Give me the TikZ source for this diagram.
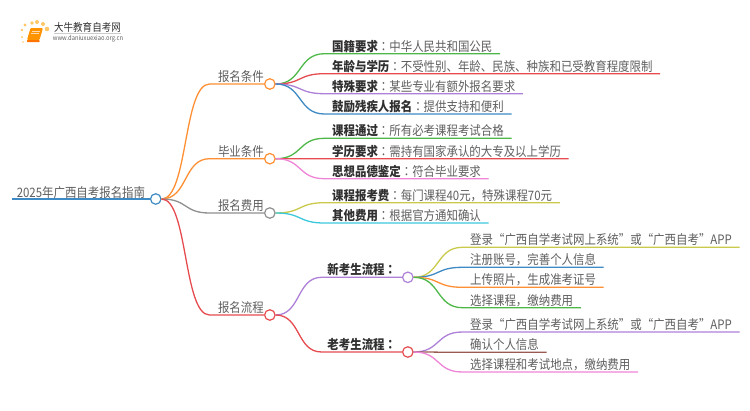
\documentclass[tikz,border=0pt]{standalone}
\usepackage{fontspec}
\usetikzlibrary{positioning,calc}
\setmainfont[FakeStretch=0.88]{Noto Sans CJK SC}
\newfontfamily\colonfont[FakeStretch=0.88]{Noto Sans CJK TC}
\definecolor{txtgray}{HTML}{5F5F5F}
\definecolor{keyblack}{HTML}{303030}
\definecolor{mbluec}{HTML}{3D8AC4}
\definecolor{morangec}{HTML}{FF8F33}
\definecolor{mgreenc}{HTML}{4DB848}
\definecolor{mredc}{HTML}{E64C4F}
\definecolor{mpurplec}{HTML}{AE80D8}
\definecolor{mpinkc}{HTML}{EE85D6}
\definecolor{mgrayc}{HTML}{8F8F8F}
\definecolor{molivec}{HTML}{C9C94B}
\definecolor{mcyanc}{HTML}{3CC8DC}
\definecolor{mbrownc}{HTML}{9A5A52}
\definecolor{logodot}{HTML}{FFC766}
\tikzset{
    txt/.style={font=\fontsize{13}{15}\selectfont, text=txtgray, inner ysep=1pt, text depth=1.5pt, text height=11pt},
    lvl/.style={txt, anchor=south east, inner xsep=0pt, text width=#1, align=right},
    lvltwo/.style={txt, anchor=south east, inner xsep=0pt, text width=#1, align=center},
    leaf/.style={txt, anchor=south west, inner xsep=7.5pt},
    dot/.style={circle, draw=#1, fill=white, line width=1.2pt, minimum size=10.5pt, inner sep=0pt},
    branch/.style={line width=1.3pt, draw=#1, to path={
        .. controls ($(\tikztostart)!0.55!(\tikztotarget |- \tikztostart)$)
        and ($(\tikztotarget)!0.55!(\tikztostart |- \tikztotarget)$) .. (\tikztotarget)}}
}
\newcommand{\keyw}[1]{{\bfseries\color{keyblack}#1}}
\newcommand{\cln}{{\colonfont ：}}
\begin{document}
\begin{tikzpicture}[x=1pt,y=-1pt]
    \useasboundingbox (0,0) rectangle (750,410);

    % Logo
    \foreach \px/\py/\r in {22/37/1, 23/42/0.8, 22/30/1.4, 25/25/1.7, 32/23/1.9, 37/22/2, 43/24/2, 47/29/2.3}
        \fill[logodot] (\px,\py) circle (\r);
    \fill[orange!85!yellow, rounded corners=1pt] (30.5,28) -- (43,28) -- (39.5,40) -- (27,40) -- cycle;
    \fill[orange!90!red, rounded corners=0.5pt] (27,40) -- (39.5,40) -- (39.5,42) -- (27,42) -- cycle;
    \draw[white!70!orange, line width=0.5pt] (32,31) -- (40,31) (31,33.5) -- (39,33.5);
    \node[font=\fontsize{10.8}{12}\selectfont, text=keyblack, inner sep=0pt] (logoname) at (87.5,27) {大牛教育自考网};
    \node[font=\fontsize{6.6}{8}\selectfont, text=txtgray, inner sep=0pt] (logourl) at (88,38.7) {www.daniuxuexiao.org.cn};
    \draw[gray!40, line width=0.4pt] (logoname.west |- 0,33) -- (logoname.east |- 0,33);

    % Root
    \node[txt, text depth=0.3pt, anchor=south west, inner xsep=0pt, text width=137.5pt, align=center] (guide) at (12,199) {2025年广西自考报名指南};
    \node[dot=mbluec, right=0pt of guide.south east] (guidedot) {};

    % Main branches
    \node[lvl=54pt] (signup) at (264,84) {报名条件};
    \node[dot=morangec, right=0pt of signup.south east] (signupdot) {};
    \node[lvl=54pt] (finish) at (264,158.7) {毕业条件};
    \node[dot=morangec, right=0pt of finish.south east] (finishdot) {};
    \node[lvl=54pt] (fees) at (264,213) {报名费用};
    \node[dot=mgrayc, right=0pt of fees.south east] (feesdot) {};
    \node[lvl=54pt] (steps) at (264,315) {报名流程};
    \node[dot=mredc, right=0pt of steps.south east] (stepsdot) {};

    % Second level of the steps
    \node[lvltwo=80pt] (newflow) at (402,277.3) {\keyw{新考生流程\cln}};
    \node[dot=mpurplec, right=0pt of newflow.south east] (newflowdot) {};
    \node[lvltwo=80pt] (oldflow) at (402,352) {\keyw{老考生流程\cln}};
    \node[dot=mredc, right=0pt of oldflow.south east] (oldflowdot) {};

    % Leaves
    \node[leaf] (nation) at (324.5,53.7) {\keyw{国籍要求}\cln 中华人民共和国公民};
    \node[leaf] (age) at (324.5,73.7) {\keyw{年龄与学历}\cln 不受性别、年龄、民族、种族和已受教育程度限制};
    \node[leaf] (special) at (324.5,93.7) {\keyw{特殊要求}\cln 某些专业有额外报名要求};
    \node[leaf] (disabled) at (324.5,114) {\keyw{鼓励残疾人报名}\cln 提供支持和便利};
    \node[leaf] (course) at (324.5,138.3) {\keyw{课程通过}\cln 所有必考课程考试合格};
    \node[leaf] (degree) at (324.5,158.7) {\keyw{学历要求}\cln 需持有国家承认的大专及以上学历};
    \node[leaf] (moral) at (324.5,178.7) {\keyw{思想品德鉴定}\cln 符合毕业要求};
    \node[leaf] (coursefee) at (324.5,202.7) {\keyw{课程报考费}\cln 每门课程40元，特殊课程70元};
    \node[leaf] (otherfee) at (324.5,223) {\keyw{其他费用}\cln 根据官方通知确认};
    \node[leaf] (newlogin) at (462.5,247.3) {登录“广西自学考试网上系统”或“广西自考”APP};
    \node[leaf] (register) at (462.5,267.3) {注册账号，完善个人信息};
    \node[leaf] (photo) at (462.5,287.3) {上传照片，生成准考证号};
    \node[leaf] (choose) at (462.5,307.7) {选择课程，缴纳费用};
    \node[leaf] (oldlogin) at (462.5,332) {登录“广西自学考试网上系统”或“广西自考”APP};
    \node[leaf] (confirm) at (462.5,352.3) {确认个人信息};
    \node[leaf] (choosetwo) at (462.5,372) {选择课程和考试地点，缴纳费用};

    % Connectors
    \draw[line width=1.3pt, mbluec] (guide.south west) -- (guide.south east);
    \draw[branch=morangec] (guidedot.east) to (signup.south west) -- (signup.south east);
    \draw[branch=morangec] (guidedot.east) to (finish.south west) -- (finish.south east);
    \draw[branch=mgrayc] (guidedot.east) to (fees.south west) -- (fees.south east);
    \draw[branch=mredc] (guidedot.east) to (steps.south west) -- (steps.south east);

    \draw[branch=mgreenc] (signupdot.east) to (nation.south west) -- (nation.south east);
    \draw[branch=mredc] (signupdot.east) to (age.south west) -- (age.south east);
    \draw[branch=mpurplec] (signupdot.east) to (special.south west) -- (special.south east);
    \draw[branch=mbluec] (signupdot.east) to (disabled.south west) -- (disabled.south east);

    \draw[branch=mgreenc] (finishdot.east) to (course.south west) -- (course.south east);
    \draw[branch=mredc] (finishdot.east) to (degree.south west) -- (degree.south east);
    \draw[branch=mpinkc] (finishdot.east) to (moral.south west) -- (moral.south east);

    \draw[branch=molivec] (feesdot.east) to (coursefee.south west) -- (coursefee.south east);
    \draw[branch=mcyanc] (feesdot.east) to (otherfee.south west) -- (otherfee.south east);

    \draw[branch=mpurplec] (stepsdot.east) to (newflow.south west) -- (newflow.south east);
    \draw[branch=mredc] (stepsdot.east) to (oldflow.south west) -- (oldflow.south east);

    \draw[branch=molivec] (newflowdot.east) to (newlogin.south west) -- (newlogin.south east);
    \draw[branch=mbluec] (newflowdot.east) to (register.south west) -- (register.south east);
    \draw[branch=morangec] (newflowdot.east) to (photo.south west) -- (photo.south east);
    \draw[branch=mgreenc] (newflowdot.east) to (choose.south west) -- (choose.south east);

    \draw[branch=mpurplec] (oldflowdot.east) to (oldlogin.south west) -- (oldlogin.south east);
    \draw[branch=mbrownc] (oldflowdot.east) to (confirm.south west) -- (confirm.south east);
    \draw[branch=mpinkc] (oldflowdot.east) to (choosetwo.south west) -- (choosetwo.south east);
\end{tikzpicture}
\end{document}
